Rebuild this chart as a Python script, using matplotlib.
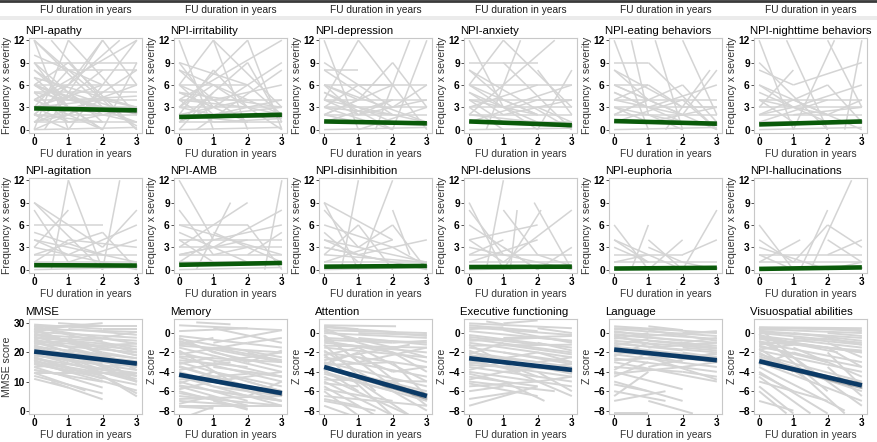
import matplotlib
matplotlib.use("Agg")
import matplotlib.pyplot as plt
import numpy as np

plt.rcParams['font.family'] = ['Liberation Sans', 'DejaVu Sans']

# ---------------- data ----------------
titles = ["NPI-apathy", "NPI-irritability", "NPI-depression", "NPI-anxiety",
          "NPI-eating behaviors", "NPI-nighttime behaviors",
          "NPI-agitation", "NPI-AMB", "NPI-disinhibition", "NPI-delusions",
          "NPI-euphoria", "NPI-hallucinations",
          "MMSE", "Memory", "Attention", "Executive functioning", "Language",
          "Visuospatial abilities"]
ylabels = ["Frequency x severity"] * 12 + ["MMSE score"] + ["Z score"] * 5
xlabel = "FU duration in years"
xticks = [0, 1, 2, 3]
npi_yticks = [0, 3, 6, 9, 12]
mmse_yticks = [0, 10, 20, 30]
z_yticks = [0, -2, -4, -6, -8]

# fitted trend (start at 0, end at 3) and CI half-width at end
trend_start = [2.85, 1.7, 1.1, 1.1, 1.15, 0.7, 0.6, 0.65, 0.4, 0.35, 0.15, 0.1,
               20.3, -4.3, -3.5, -2.6, -1.7, -2.9]
trend_end = [2.6, 2.0, 0.85, 0.6, 0.8, 1.1, 0.55, 0.9, 0.5, 0.4, 0.25, 0.3,
             16.2, -6.2, -6.5, -3.8, -2.8, -5.4]
ci_end = [0.35, 0.3, 0.25, 0.25, 0.25, 0.25, 0.2, 0.2, 0.2, 0.2, 0.15, 0.15,
          0.6, 0.25, 0.35, 0.2, 0.2, 0.35]

# individual trajectories (x0, y0, x1, y1)
apathy = [(0,12,3,0),(0,9,3,9),(0.7,8,3,8),(0,6,3,6),(0,12,1,0),(0,0,1,12),(0.3,0,2,12),(1,12,3,2),
          (0,4,3,12),(0,2,2.5,12),(0,9,1,3),(0,6,2,0),(0,3,3,3),(0,4,3,4),(0,2,3,2),(0,1,3,1),
          (0,5,3,5),(0,0,3,0.3),(0,8,2,2),(0,6,1,9),(1,9,3,0),(0,3,1,8),(0.5,12,2,4),(1,0,3,12),
          (2,12,3,6),(0,10,2,6),(0,6,3,1),(0,1,2,8),(0,4,1,2),(1,6,2,12),(0,12,2,3),(0,7,3,3),
          (2,0,3,9),(0,2,1,6),(0,5,1,1),(0,3,2,6),(1,4,3,4.5),(0,0,2,4),(0,1,3,6),(0,8,1,4),
          (1,2,3,8),(0,6,2,3),(0,4,2,0),(1,1,3,3),(0,9,2,1),(1,3,2,0),(2,3,3,0.5),(0,2,1,0),
          (0,6,1,4),(0,5,2,3),(0,4,1,6),(0,3,1,1),(0,2,2,1),(0,1,1,2),(1,5,3,2),(1,3,3,1),
          (2,4,3,3),(0,7,1,3),(0,3,2,4),(1,2,2,5)]
irritability = [(0,12,1,0),(0,9,1,3),(0,9,2,6),(0,8,3,2),(0,6,2,6),(0,6,1,12),(1,12,3,3),(1,12,2,0),
                (0,4,3,12),(0,3,2,12),(0,2,1,8),(0,4,3,4),(0,3,3,3),(0,2,3,2),(0,1,3,1),(0,0,3,0.3),
                (0,5,2,1),(0,6,1,2),(1,6,3,0),(0,1,2,9),(0.5,0,3,8),(1,3,3,9),(2,12,3,0),(0,2,2,4),
                (0,4,1,1),(0,3,1,6),(1,4,3,6),(1,2,3,4),(2,6,3,2),(0,8,1,4),(0,1,1,3),(1,1,3,1.5),
                (0,5,3,3),(2,9,3,1),(0,0,1,5),(1,8,2,3),(0,6,1,4),(0,4,2,3),(0,3,1,2),(0,2,2,1),
                (1,4,2,1),(1,2,3,3),(2,3,3,2),(0,5,1,3)]
depression = [(0,12,1,0),(0,9,2,3),(0,8,1,8),(0,6,2,6),(0,6,3,1),(0,4,3,4),(0,3,3,3),(0,2,3,2),
              (0,1,3,1),(0,0,3,0.3),(1,12,3,0),(0,4,1,12),(1.5,0,2.5,12),(2,9,3,3),(2,0,3,12),
              (0,5,2,0),(0,3,1,6),(0,2,2,6),(1,6,3,6),(1,4,2,9),(0,8,2,2),(0,1,2,4),(1,2,3,4),
              (1,3,2,1),(0,4,2,2),(2,3,3,6),(0,6,1,2),(0,2,1,4),(1,0,3,3),(0,3,2,0),
              (0,6,1,4),(0,4,1,2),(0,3,2,2),(0,2,1,1),(1,2,2,4),(2,2,3,1),(0,5,1,3)]
anxiety = [(0,12,1,3),(0,9,2,9),(0,8,3,0),(0,6,1,12),(1,12,3,3),(1,6,2.5,12),(0,6,3,6),(0,4,3,4),
           (0,3,3,3),(0,2,3,2),(0,1,3,1),(0,0,3,0.2),(0,5,2,1),(0,4,1,1),(0,3,2,6),(0.5,0,1.5,12),
           (1,9,3,0),(0,2,1,6),(0,6,2,2),(1,3,3,6),(2,8,3,2),(2,0,3,8),(0,1,2,4),(1,4,2,2),
           (0,8,1,4),(0,3,1,0),(1,2,3,4),(2,4,3,4),(0,6,1,3),(0,4,2,2),(0,5,1,2),(0,2,2,1),
           (1,3,2,0),(2,3,3,1)]
eating = [(0,12,1,0),(0,9,1,9),(0,8,2,3),(0,6,1,6),(0,6,3,0),(0,4,3,4),(0,3,3,3),(0,2,3,2),
          (0,1,3,1),(0,0,3,0.3),(1.2,12,2,0),(1,9,3,0),(0.5,12,1,2),(2,12,3,2),(1.5,0,2.8,8),
          (0,5,2,1),(0,4,1,6),(0,2,2,6),(1,3,3,6),(0,3,1,1),(1,6,2,3),(0,1,2,4),(2,6,3,1),
          (0,8,1,4),(2,2,3,8),(0,2,1,4),(1,1,3,3),(2,4,3,0),(0,6,2,2),(0,4,2,2),(0,5,1,3),
          (0,3,2,1),(1,2,2,0),(2,3,3,3)]
nighttime = [(0,12,1,0),(0,9,2,0),(0,8,1,6),(0,6,3,0),(0.8,12,2,0),(1,0,2.2,12),(2,12,3,3),
             (2.5,0,3,12),(1,6,3,9),(0,4,3,4),(0,3,3,3),(0,2,3,2),(0,1,3,1),(0,0,3,0.3),(0,5,2,1),
             (0,3,1,8),(0,2,2,6),(1,3,3,6),(0,4,1,1),(1,4,2,2),(0,1,2,4),(2,6,3,1),(2,2,3,4),
             (0,6,1,3),(1,2,3,3),(0,4,2,2),(0,2,1,3)]
agitation = [(0,9,2,0),(0,8,1,1),(0,6,2,6),(0.5,0,1,12),(1,12,2,0),(2,0,2.5,12),(0,9,1,6),
             (0,4,3,1),(0,3,3,0),(0,2,3,2),(0,1,3,1),(0,0,3,0.3),(0,5,2,2),(0,3,1,8),(1,4,3,3),
             (2,3,3,8),(1,6,2,3),(0,2,2,5),(0,1,1,4),(1,2,3,6),(2,5,3,0),(0,4,1,2),(1,1,3,4)]
amb = [(0,12,1,4),(0,8,1,2),(0,6,2,6),(0,6,3,2),(0.5,0,1.5,9),(1,6,2,9),(2.5,0,3,12),(1,4,3,6),
       (0,4,3,4),(0,3,3,3),(0,2,3,2),(0,1,3,1),(0,0,3,0.3),(0,5,2,1),(0,3,1,6),(0,2,2,4),
       (1,3,3,8),(0,4,1,1),(1,2,2,3),(0,1,1,4),(2,6,3,0),(2,2,3,5),(0,2,1,3),(1,5,3,1)]
disinhibition = [(0,9,1,0),(0,9,2,4),(0,8,1,3),(0,6,2,3),(0.5,0,1,12),(1,0,2,12),(1,6,2,0),
                 (2,6,3,0),(2,8,2.5,2),(0,4,3,1),(0,3,3,0),(0,2,3,1),(0,1,3,1),(0,0,3,0.3),
                 (0,5,1,1),(0,2,1,6),(1,3,2,6),(1,2,3,4),(0,1,2,4),(0,4,1,2),(2,3,3,0.5),(0,3,2,1)]
delusions = [(0,9,1,0),(0,8,1,2),(0,6,2,0),(0.5,0,1,12),(1,8,2,2),(1.2,0,1.4,8),(1.9,9,3,0),
             (1,1,3,8),(0,4,2,6),(0,3,3,0),(0,2,3,2),(0,1,3,1),(0,0,3,0.3),(0,2,1,4),(1,3,2,0),
             (2,0,3,3),(0,1,2,4),(1,0,2.1,8),(0,4,1,1),(2,2,3,0.5)]
euphoria = [(0,6,1,0),(0,4,1,1),(0,4,2,0),(0,3,1,1),(0.5,0,1,6),(1,4,2,0),(1,0,2,4),(2,0,3,8),
            (2,2,3,4),(0,1,3,1),(0,0,3,0.3),(0,2,2,2),(1,3,2,1),(0,1,1,2),(2,1,3,0)]
hallucinations = [(0,6,1,0),(0,4,1,1),(0,3,2,0),(0,1,1.2,4),(1.2,0,2,8),(1.5,0,2.7,12),(2,6,3,3),
                  (2,4,3,1),(2,2,3,4),(0,2,3,2),(0,1,3,1),(0,0,3,0.3),(1,1,2,6),(0,2,1,0),(2,0,3,1)]
mmse = [(0,29,3,29),(0,28,3,27),(0,27,3,25),(0,26,3,24),(0,25,3,22),(0,24,3,21),(0,23,3,20),
        (0,22,3,18),(0,21,3,17),(0,20,3,15),(0,19,3,14),(0,18,3,12),(0,17,3,11),(0,16,3,9),
        (0,15,2,8),(0,14,2,10),(0,13,3,13),(0,12,2,6),(0,11,1,8),(0,13,1.5,7),(0.5,10,2,4),
        (0,29,1,26),(0,28,2,30),(0,27,1,29),(0.7,30,2,29),(0,26,2,22),(0,24,1,20),(0,22,2,14),
        (0,21,1,18),(0,19,2,16),(0,18,1,15),(0,17,2,12),(0,16,1,14),(0,15,1,16),(0,14,1,12),
        (1,28,3,26),(1,24,3,19),(1,22,3,23),(1,20,3,10),(1,18,3,6),(1,16,3,13),(1,14,3,12),
        (2,28,3,28),(2,25,3,27),(2,20,3,18),(2,15,3,16),(0,25,2,24),(0,23,1,24),(0,20,2,19),
        (0,28,3,15),(2,12,3,5),(0,29.5,2,28),(0,28.5,3,23),(0,27.5,2,20),(0,26.5,3,19),
        (0,25.5,1,22),(0,24.5,3,16),(0,23.5,2,17),(0,22.5,3,12),(0,21.5,2,13),(0,20.5,1,17),
        (0,19.5,3,10),(0,18.5,2,11),(0,17.5,1,13),(0,16.5,3,7),(1,26,3,21),(1,25,3,14),
        (1,21,3,16),(2,23,3,20),(2,18,3,10)]
memory = [(0,0.8,3,0.3),(0,0.2,2,0.5),(0,-0.3,3,-1.5),(0,-0.6,3,-2.5),(0,-1,3,-3),(0,-1.5,3,-4),
          (0,-2,3,-4.5),(0,-2.5,3,-5),(0,-3,3,-6),(0,-3.5,3,-6.5),(0,-4,3,-7),(0,-4.5,3,-7.5),
          (0,-5,2,-7),(0,-5.5,2,-7.5),(0,-6,2,-7.8),(0,-6.5,3,-7.5),(0,-7,2,-7.5),(0,-7.5,3,-7.5),
          (0,-7.6,1,-7.8),(0.3,-8.5,1,-7.6),(0,-0.5,1,-2),(0,-1.2,1,-0.5),(0,-2.2,2,-1),
          (0,-3.2,1,-2.5),(0,-4.2,1,-5.5),(0,-5.2,1,-4),(0,-6.2,1,-6.8),(0,-1.8,2,-6),
          (0,-2.8,2,-3.5),(0.5,1.1,1.5,0.9),(1,0.5,3,-1),(1,-1,3,0.3),(1,-2,3,-3.5),(1,-3,3,-2),
          (1,-4,3,-5.5),(1,-5,3,-4),(1,-6,3,-7),(2,-1,3,-0.5),(2,-3,3,-1.8),(2,-5,3,-6),
          (2,-6.5,3,-5),(0,-3.8,1.5,-3),(0,-4.8,2,-4.2),(0,-0.8,2,-3),(0,-1.3,3,-2),
          (0,-2.4,3,-3),(0,-3.4,2,-5.5),(0,-4.4,3,-6),(0,-5.4,3,-7),(0,-5.8,1,-5),
          (0,-6.8,3,-6.5),(0,-7.3,1,-6.5),(1,-1.5,3,-2.8),(1,-3.5,3,-4.5),(1,-5.5,3,-6.5),
          (1,-7,2,-7.9),(2,-2,3,-3),(2,-4,3,-4.5)]
attention = [(0,0.8,2.1,0.7),(0,0.6,2.1,0.1),(0,0.3,3,0),(0,0,3,-0.5),(0,-0.5,3,-1),(0,-1,3,-2),
             (0,-1.5,3,-2.5),(0,-2,3,-3.5),(0,-2.5,3,-4.5),(0,-3,3,-5.5),(0,-3.5,3,-6),(0,-4,3,-7),
             (0,-4.5,2.5,-8.5),(0,-5,2,-8.5),(0,-5.5,1.5,-8.5),(0,-6,1,-8.5),(0,-6.5,3,-7.5),
             (0,-7,1.5,-8),(0,-7.5,0.8,-8.5),(0,-0.2,1,-3),(0,-1.2,1.5,-6),(0,-2.2,2,-8.5),
             (0,0.5,1,-1),(0,-0.8,2,-2),(0,-1.8,1,-4),(0,-3.2,1,-2),(0,-4.2,2,-6),(0,-5.2,1,-5.5),
             (1,0,3,-0.2),(1,-1,3,-3),(1,-2,3,-7.5),(1,-3,3,-1.5),(1,-4,3,-8),(1,-5,2.5,-8.5),
             (2,-1,3,-0.8),(2,-2,3,-4),(2,-3,3,-6.5),(2,-5,3,-7),(0,-2.8,2.5,-1.2),(0,-0.3,1.8,-5),
             (0,0.7,1,0.4),(0,0.2,2,-1.5),(0,-0.7,2,-1),(0,-1.3,3,-1.5),(0,-2.3,1,-1.5),
             (0,-3.3,2,-3),(0,-3.8,1,-6),(0,-4.8,3,-5),(0,-5.8,2,-7),(0,-6.8,1,-7.5),
             (1,-0.5,3,-1.2),(1,-1.5,3,-5),(1,-2.5,2,-4),(2,0,3,-0.3),(2,-1.5,3,-2.5),(2,-4,3,-3.5)]
executive = [(0,1,3,0.5),(0,0.6,3,-0.2),(0,0.2,3,-0.8),(0,-0.2,3,-1.5),(0,-0.6,3,-2),(0,-1,3,-2.5),
             (0,-1.5,3,-3),(0,-2,3,-3.5),(0,-2.5,3,-4),(0,-3,3,-4.5),(0,-3.5,3,-5),(0,-4,3,-5.5),
             (0,-4.5,2,-5.5),(0,-5,2.5,-6),(0,-5.5,2,-5),(0,-6,1,-5.5),(0,-7.5,2,-5.5),
             (0,-6.8,1.5,-6),(1,1,2,1.3),(0.5,1.2,1,0.9),(0,-0.4,2,-1.2),(0,-1.2,1,-3),
             (0,-2.2,1,-1),(0,-3.2,2,-2),(0,-4.2,1,-5),(1,-0.5,3,-0.3),(1,-2,3,-3.2),
             (1,-3.5,3,-6.5),(1,-5,2.2,-7),(2,-1,3,-1.8),(2,-3,3,-2.5),(2,-4,3,-6),(2,0.5,3,0),
             (0,-1.8,2,-4.5),(0,-2.8,1.5,-4),(2,-5,3,-4.5),(0,0.8,2,0.2),(0,0.4,1,0.6),
             (0,-0.8,2,-0.5),(0,-1.3,3,-1.2),(0,-2.3,2,-3),(0,-3.3,3,-3.8),(0,-3.8,1,-3),
             (0,-4.8,1,-4),(0,-5.2,2,-6.5),(1,0.3,3,-1),(1,-1.2,3,-2.2),(1,-2.8,3,-4.2),
             (1,-4,3,-3.2),(2,-0.5,3,-0.8),(2,-2,3,-3)]
language = [(0,0.7,3,0),(0,0.4,3,-0.3),(0,0.1,3,-0.6),(0,-0.2,3,-1),(0,-0.5,3,-1.3),
            (0,-0.8,3,-1.6),(0,-1.1,3,-2),(0,-1.4,3,-2.5),(0,-1.8,3,-3),(0,-2.2,3,-3.5),
            (0,-2.6,3,-4),(0,-3,3,-5),(0,-3.5,2,-4),(0,-4,2,-5.8),(0,-4.5,1,-3),(0,-5,2,-7),
            (0,-5.3,1,-6),(0,-6,1.5,-7),(0,-6.5,1,-4),(0,-8.2,1,-8.2),(1,-7,2.3,-8.3),
            (1,0.7,2,0.3),(1,-0.3,3,0.2),(1,-1.5,3,-1),(1,-2.5,3,-4.8),(1,-3.5,3,-2),
            (2,-1,3,-0.5),(2,-2,3,-2.5),(2,-3.5,3,-3),(0,-1.6,2,-3),(0,-0.3,1.5,-1.5),
            (0,-2.4,1,-1),(0,-3.8,1,-2),(2,-4,3,-4.5),(0,0.5,2,0.3),(0,0.2,1,-0.3),
            (0,-0.1,2,-0.8),(0,-0.6,1,0),(0,-1,2,-1.8),(0,-1.3,1,-0.6),(0,-2,2,-2.5),
            (0,-2.8,3,-2.2),(1,0.3,3,-0.8),(1,-0.8,3,-1.5),(2,0,3,0.1),(2,-1.5,3,-1.8),
            (0,-4.2,2,-3.5),(0,-7,1.5,-6)]
visuospatial = [(0,0.6,3,0.5),(0,0.4,3,0),(0,0.2,3,-0.5),(0,0,3,-1),(0,-0.3,3,-1.5),(0,-0.6,3,-2),
                (0,-1,3,-3),(0,-1.4,3,-3.5),(0,-1.8,3,-4),(0,-2.2,3,-5),(0,-2.6,3,-6),(0,-3,3,-7),
                (0,-3.5,2.5,-8),(0,-4,2,-8.3),(0,-4.5,1.5,-8.3),(0,-5,2,-7),(0,-5.5,1,-8.3),
                (0,-6,0.8,-8.3),(0,-7,1,-8),(0,0.5,1.5,-4),(0,-0.1,2,-6),(0,-0.8,1,-2.5),
                (0,-1.2,2,-0.5),(0,-2,1,-4),(0,-3.3,1,-2),(1,0.5,3,0.3),(1,-0.5,3,-1.2),
                (1,-1.5,3,-4.5),(1,-2.5,3,-7.5),(1,-3.5,2.5,-8.3),(2,0,3,-0.3),(2,-1,3,-2.5),
                (2,-2,3,-5.5),(2,-3.5,3,-6.5),(0,-0.4,2.3,-2),(0,-1.6,1.5,-5),(0,0.55,2,0.4),
                (0,0.3,1,0.5),(0,0.1,2,-0.3),(0,-0.2,1,-1),(0,-0.5,2,-1.5),(0,-0.9,3,-1.8),
                (0,-1.3,2,-3),(0,-1.7,1,-1.2),(0,-2.4,2,-4.5),(0,-4.2,1,-6),(1,0,3,-0.8),
                (1,-1,3,-2),(2,0.4,3,0.2),(2,-0.5,3,-1.2),(2,-1.5,3,-3.5),(1,-2,2,-3)]

trajectories = [apathy, irritability, depression, anxiety, eating, nighttime,
                agitation, amb, disinhibition, delusions, euphoria, hallucinations,
                mmse, memory, attention, executive, language, visuospatial]

# ---------------- figure ----------------
W, H = 878, 442
fig = plt.figure(figsize=(W / 100, H / 100), dpi=100)

# top strip (remnant of previous row)
fig.add_artist(plt.Line2D([0, 1], [1 - 1 / H, 1 - 1 / H], transform=fig.transFigure,
                          color="#3a3a3a", lw=2))
fig.add_artist(plt.Rectangle((0, 1 - 20 / H), 1, 4 / H, transform=fig.transFigure,
                             color="#ebebeb", lw=0))

box_w, box_h = 113, 95
row_tops = [38, 178, 319]
green = "#0a5a0a"
blue = "#0b3a66"

for i in range(18):
    r, c = divmod(i, 6)
    left = 29 + c * 145.0
    top = row_tops[r]
    ax = fig.add_axes([left / W, 1 - (top + box_h) / H, box_w / W, box_h / H])
    if r == 0:
        fig.text((left + box_w / 2) / W, 1 - 10 / H, xlabel, ha="center", va="center",
                 fontsize=7.3, color="#222222")
    lw = 1.1 if i < 12 else 1.4
    for (x0, y0, x1, y1) in trajectories[i]:
        ax.plot([x0, x1], [y0, y1], color="#d4d4d4", lw=lw, solid_capstyle="butt", zorder=1)
    xs = np.array([0.0, 3.0])
    ys = np.array([trend_start[i], trend_end[i]])
    ci = np.array([ci_end[i] * 0.5, ci_end[i]])
    ax.fill_between(xs, ys - ci, ys + ci, color="#333333", alpha=0.35, lw=0, zorder=2)
    col = green if i < 12 else blue
    ax.plot(xs, ys, color=col, lw=3.3, solid_capstyle="butt", zorder=3)

    ax.set_xlim(-0.15, 3.15)
    ax.set_xticks(xticks)
    if i < 12:
        ax.set_ylim(-0.45, 12.3)
        ax.set_yticks(npi_yticks)
    elif i == 12:
        ax.set_ylim(-1.0, 31.4)
        ax.set_yticks(mmse_yticks)
    else:
        ax.set_ylim(-8.35, 1.45)
        ax.set_yticks(z_yticks)
    ax.tick_params(labelsize=7.3, length=2, width=0.6, color="#333333", pad=1,
                   labelcolor="black")
    for lab in ax.get_xticklabels() + ax.get_yticklabels():
        lab.set_fontweight("bold")
    for sp in ax.spines.values():
        sp.set_color("#c8c8c8")
        sp.set_linewidth(0.8)
    ax.set_xlabel(xlabel, fontsize=7.3, color="#333333", labelpad=1)
    ax.set_ylabel(ylabels[i], fontsize=7.6, color="#333333", labelpad=1)
    t = ax.set_title(titles[i], loc="left", fontsize=8.2, color="black", pad=3)
    t.set_x(-0.035)

fig.savefig("out.png", dpi=100)
